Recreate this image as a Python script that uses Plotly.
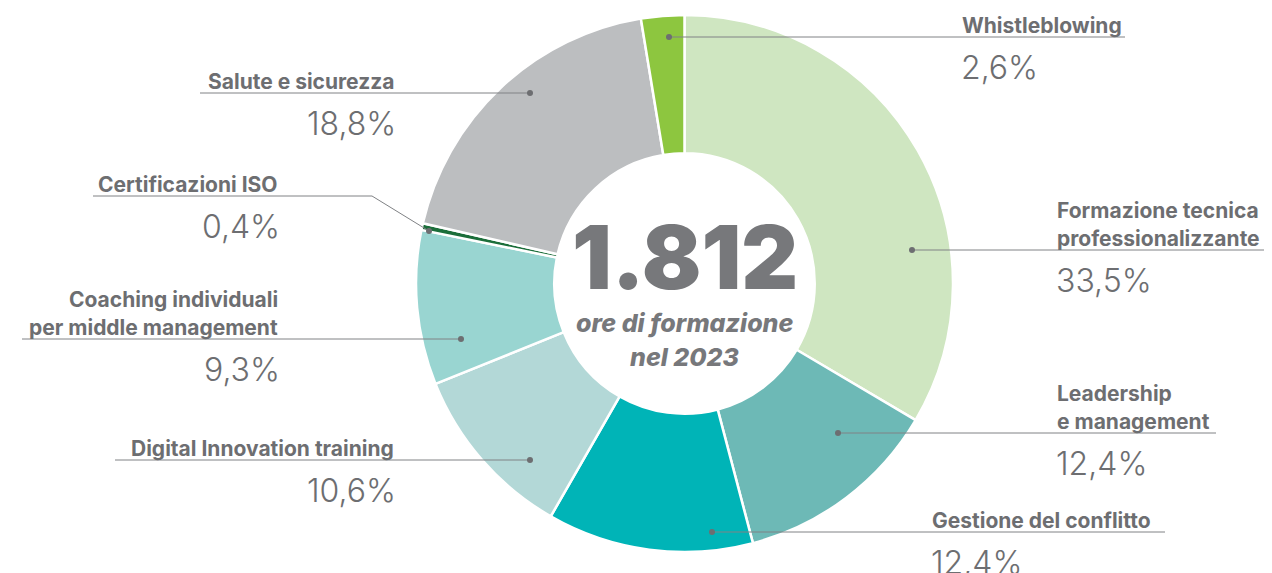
import plotly.graph_objects as go

# ---- data ----
categories = ["Formazione tecnica professionalizzante", "Leadership e management",
              "Gestione del conflitto", "Digital Innovation training",
              "Coaching individuali per middle management", "Certificazioni ISO",
              "Salute e sicurezza", "Whistleblowing"]
values = [33.5, 12.4, 12.4, 10.6, 9.3, 0.4, 18.8, 2.6]
pct_labels = ["33,5%", "12,4%", "12,4%", "10,6%", "9,3%", "0,4%", "18,8%", "2,6%"]
label_lines = [["Formazione tecnica", "professionalizzante"],
               ["Leadership", "e management"],
               ["Gestione del conflitto"],
               ["Digital Innovation training"],
               ["Coaching individuali", "per middle management"],
               ["Certificazioni ISO"],
               ["Salute e sicurezza"],
               ["Whistleblowing"]]
colors = ["#cfe6c1", "#6db9b6", "#00b4b7", "#b3d8d7", "#99d5d1", "#1b6e3a", "#bcbec0", "#8dc63f"]
total_hours = "1.812"
center_sub = ["ore di formazione", "nel 2023"]

# ---- layout of labels (pixel space of the 1272x573 window) ----
W, H = 1272, 573
OFF = 8  # default page body margin
FW, FH = W - OFF, H - OFF
CX, CY, R = 684.5, 283.5, 268.5
leaders = [
    dict(side="r", tx=1058, ly=250, end=1270, dot=(912, 250)),
    dict(side="r", tx=1058, ly=433, end=1216, dot=(838, 433)),
    dict(side="r", tx=933, ly=532, end=1165, dot=(712, 532)),
    dict(side="l", tx=393, ly=460, end=115, dot=(530, 460)),
    dict(side="l", tx=277, ly=339, end=22, dot=(461, 339)),
    dict(side="l", tx=277, ly=196, end=93, dot=(429, 231), elbow=(372, 196)),
    dict(side="l", tx=393, ly=93, end=200, dot=(530, 93)),
    dict(side="r", tx=963, ly=37, end=1125, dot=(669, 37)),
]

TXT = "#6d6e71"
LINE = "#808285"
FONT = "Inter"


def px(x):
    return (x - OFF) / FW


def py(y):
    return 1 - (y - OFF) / FH


fig = go.Figure()
fig.add_trace(go.Pie(
    labels=categories, values=values, sort=False, direction="clockwise", rotation=0,
    hole=0.485, textinfo="none", hoverinfo="label+percent",
    marker=dict(colors=colors, line=dict(color="white", width=2.5)),
    domain=dict(x=[px(CX - R), px(CX + R)], y=[py(CY + R), py(CY - R)]),
    showlegend=False,
))
fig.add_trace(go.Scatter(x=[OFF, W], y=[OFF, H], mode="markers", marker=dict(opacity=0),
                         hoverinfo="skip", showlegend=False))

shapes, annotations = [], []
for lines, pct, ld in zip(label_lines, pct_labels, leaders):
    ly = ld["ly"]
    dx, dy = ld["dot"]
    if "elbow" in ld:
        ex, ey = ld["elbow"]
        shapes.append(dict(type="line", x0=ld["end"], y0=ly, x1=ex, y1=ey,
                           line=dict(color=LINE, width=1)))
        shapes.append(dict(type="line", x0=ex, y0=ey, x1=dx, y1=dy,
                           line=dict(color=LINE, width=1)))
    else:
        shapes.append(dict(type="line", x0=ld["end"], y0=ly, x1=dx, y1=dy,
                           line=dict(color=LINE, width=1)))
    shapes.append(dict(type="circle", x0=dx - 3, x1=dx + 3, y0=dy - 3, y1=dy + 3,
                       fillcolor="#6d6e71", line=dict(width=0)))
    anchor = "left" if ld["side"] == "r" else "right"
    shift = -3 if anchor == "left" else 3
    n = len(lines)
    for i, t in enumerate(lines):
        yy = ly - 12 - 28 * (n - 1 - i)
        annotations.append(dict(x=ld["tx"] + shift, y=yy, text=t, showarrow=False,
                                xanchor=anchor, yanchor="middle",
                                font=dict(family=FONT, size=21, color=TXT, weight=700)))
    annotations.append(dict(x=ld["tx"] + shift * 1.5, y=ly + 30, text=pct,
                            showarrow=False, xanchor=anchor, yanchor="middle",
                            font=dict(family=FONT, size=32, color=TXT, weight=300)))

# center text
annotations.append(dict(x=CX, y=257, text=total_hours, showarrow=False, xanchor="center",
                        yanchor="middle", font=dict(family=FONT, size=88, color="#77787b", weight=900)))
annotations.append(dict(x=CX, y=323, text="<i>" + center_sub[0] + "</i>", showarrow=False,
                        xanchor="center", yanchor="middle",
                        font=dict(family=FONT, size=25, color="#77787b", weight=800)))
annotations.append(dict(x=CX, y=357, text="<i>" + center_sub[1] + "</i>", showarrow=False,
                        xanchor="center", yanchor="middle",
                        font=dict(family=FONT, size=25, color="#77787b", weight=800)))

fig.update_layout(
    width=FW, height=FH, margin=dict(l=0, r=0, t=0, b=0),
    paper_bgcolor="white", plot_bgcolor="rgba(0,0,0,0)",
    xaxis=dict(range=[OFF, W], visible=False, fixedrange=True),
    yaxis=dict(range=[H, OFF], visible=False, fixedrange=True),
    shapes=shapes, annotations=annotations,
)
fig.write_html("out.html")
